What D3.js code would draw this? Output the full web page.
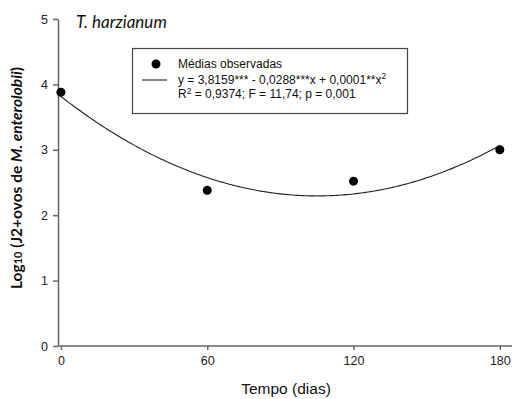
<!DOCTYPE html>
<html>
<head>
<meta charset="utf-8">
<script src="https://cdn.jsdelivr.net/npm/d3@7"></script>
<style>
    body { margin: 0; background: #fff; }
    svg { display: block; }
    .axis path, .axis line { stroke: #666; stroke-width: 1.5; }
    .axis text { font-family: "Liberation Sans", Arial, sans-serif; font-size: 12.5px; fill: #222; }
</style>
</head>
<body>
<script>
// observed means
let dias = [0, 60, 120, 180];
let medias = [3.88, 2.38, 2.52, 3.0];
let xTicks = [0, 60, 120, 180];
let yTicks = [0, 1, 2, 3, 4, 5];
let legendLines = [
    "Médias observadas",
    "y = 3,8159*** - 0,0288***x + 0,0001**x",
    "R",
    " = 0,9374; F = 11,74; p = 0,001"
];

run();

function run() {
    let width = 512, height = 399;

    let svg = d3.select("body")
        .append("svg")
        .attr("width", width)
        .attr("height", height);

    let x = d3.scaleLinear().domain([-1.2, 185]).range([58, 512]);
    let y = d3.scaleLinear().domain([0, 5]).range([346, 19]);

    // quadratic least squares fit of the means
    let coef = fitQuadratic(dias, medias);
    let curve = d3.range(0, 180.5, 1).map(function (d) {
        return [d, coef[0] + coef[1] * d + coef[2] * d * d];
    });

    svg.append("g")
        .attr("class", "axis")
        .attr("transform", "translate(0,346)")
        .call(d3.axisBottom(x).tickValues(xTicks).tickSize(4).tickSizeOuter(0).tickPadding(6))
        .call(g => g.select(".domain").attr("d", "M58,0H512"));

    svg.append("g")
        .attr("class", "axis")
        .attr("transform", "translate(58,0)")
        .call(d3.axisLeft(y).tickValues(yTicks).tickFormat(d3.format("d"))
            .tickSize(5).tickSizeOuter(0).tickPadding(5));

    svg.append("path")
        .datum(curve)
        .attr("fill", "none")
        .attr("stroke", "#222")
        .attr("stroke-width", 1.1)
        .attr("d", d3.line()
            .x(function (d) { return x(d[0]); })
            .y(function (d) { return y(d[1]); }));

    svg.selectAll(".pt")
        .data(dias)
        .enter()
        .append("circle")
        .attr("class", "pt")
        .attr("cx", function (d) { return x(d); })
        .attr("cy", function (d, i) { return y(medias[i]); })
        .attr("r", 4.5)
        .attr("fill", "#000");

    // panel title
    svg.append("text")
        .attr("x", 76)
        .attr("y", 28)
        .attr("font-family", "Lato, 'Open Sans', sans-serif")
        .attr("font-style", "italic")
        .attr("font-size", "17px")
        .attr("fill", "#111")
        .text("T. harzianum");

    // legend
    let lg = svg.append("g");
    lg.append("rect")
        .attr("x", 132.5).attr("y", 48.5)
        .attr("width", 275).attr("height", 65)
        .attr("fill", "#fff")
        .attr("stroke", "#444")
        .attr("stroke-width", 1.2);
    lg.append("circle").attr("cx", 156).attr("cy", 64).attr("r", 4.5).attr("fill", "#000");
    lg.append("line")
        .attr("x1", 142).attr("x2", 167)
        .attr("y1", 80).attr("y2", 80)
        .attr("stroke", "#222").attr("stroke-width", 1.1);

    let lt = lg.append("g")
        .attr("font-family", "'Liberation Sans', Arial, sans-serif")
        .attr("font-size", "12px")
        .attr("fill", "#111");
    lt.append("text").attr("x", 178).attr("y", 68).text(legendLines[0]);
    let t2 = lt.append("text").attr("x", 178).attr("y", 83.5);
    t2.append("tspan").text(legendLines[1]);
    t2.append("tspan").attr("dy", -5).attr("font-size", "8.5px").text("2");
    let t3 = lt.append("text").attr("x", 178).attr("y", 97.5);
    t3.append("tspan").text(legendLines[2]);
    t3.append("tspan").attr("dy", -4).attr("font-size", "8.5px").text("2");
    t3.append("tspan").attr("dy", 4).text(legendLines[3]);

    // axis titles
    svg.append("text")
        .attr("x", 286)
        .attr("y", 394)
        .attr("text-anchor", "middle")
        .attr("font-family", "'Liberation Sans', Arial, sans-serif")
        .attr("font-size", "15.5px")
        .attr("fill", "#111")
        .text("Tempo (dias)");

    let yl = svg.append("text")
        .attr("transform", "translate(22,178) rotate(-90)")
        .attr("text-anchor", "middle")
        .attr("font-family", "Lato, 'Open Sans', sans-serif")
        .attr("font-size", "15.5px")
        .attr("font-weight", "bold")
        .attr("fill", "#111");
    yl.append("tspan").text("Log");
    yl.append("tspan").attr("font-size", "11px").text("10");
    yl.append("tspan").text(" (J2+ovos de ");
    yl.append("tspan").attr("font-style", "italic").text("M. enterolobii");
    yl.append("tspan").text(")");
}

function fitQuadratic(xs, ys) {
    // normal equations for y = a + b x + c x^2
    let s = [0, 0, 0, 0, 0], t = [0, 0, 0];
    for (let i = 0; i < xs.length; i++) {
        for (let k = 0; k < 5; k++) s[k] += Math.pow(xs[i], k);
        for (let k = 0; k < 3; k++) t[k] += ys[i] * Math.pow(xs[i], k);
    }
    let m = [[s[0], s[1], s[2], t[0]], [s[1], s[2], s[3], t[1]], [s[2], s[3], s[4], t[2]]];
    for (let i = 0; i < 3; i++) {
        for (let j = i + 1; j < 3; j++) {
            let f = m[j][i] / m[i][i];
            for (let k = i; k < 4; k++) m[j][k] -= f * m[i][k];
        }
    }
    let c = [0, 0, 0];
    for (let i = 2; i >= 0; i--) {
        let v = m[i][3];
        for (let k = i + 1; k < 3; k++) v -= m[i][k] * c[k];
        c[i] = v / m[i][i];
    }
    return c;
}
</script>
</body>
</html>
